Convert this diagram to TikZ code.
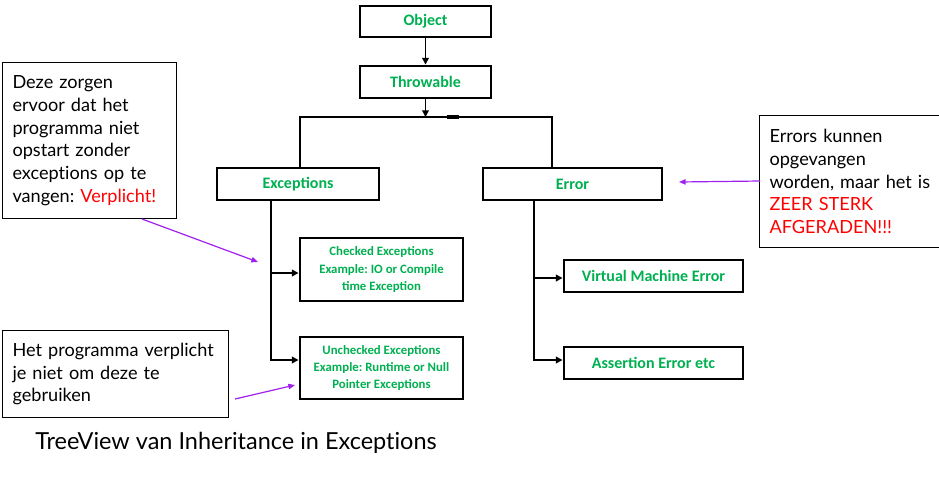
\documentclass[tikz,border=0pt]{standalone}
\usepackage{fontspec}
\setmainfont{Lato}[Ligatures=NoCommon]
\newfontfamily\treefont{Carlito}
\usetikzlibrary{arrows.meta,calc}
\definecolor{tgreen}{RGB}{0,176,80}
\definecolor{apurple}{RGB}{160,32,240}
\definecolor{ared}{RGB}{255,0,0}
\frenchspacing
\begin{document}
\begin{tikzpicture}[x=0.75pt,y=-0.75pt,
  tbox/.style={draw=black, line width=2.2pt, inner sep=0pt, text=tgreen, align=center,
    font=\treefont\bfseries\fontsize{12}{14}\selectfont},
  sbox/.style={tbox, font=\treefont\bfseries\fontsize{9.6}{13}\selectfont},
  conn/.style={draw=black, line width=1.6pt},
  tarrow/.style={-{Triangle[length=5pt,width=5pt]}},
  anno/.style={draw=black, line width=0.75pt, inner sep=0pt, anchor=north west, align=left,
    font=\fontsize{13.6}{17}\selectfont},
  parrow/.style={draw=apurple, line width=0.9pt, -{Triangle[length=5pt,width=4pt]}}
]
\useasboundingbox (0,0) rectangle (939,483);

% tree boxes
\node[tbox, minimum width=98.25pt, minimum height=23.25pt] (obj) at (425.5,21.5) {Object};
\node[tbox, minimum width=98.25pt, minimum height=24pt] (thr) at (425.5,82) {Throwable};
\node[tbox, minimum width=121.5pt, minimum height=24pt] (exc) at (298,184) {Exceptions};
\node[tbox, minimum width=134.25pt, minimum height=24pt] (err) at (572.5,184) {Error};
\node[sbox, minimum width=122.25pt, minimum height=47.25pt] (chk) at (381.5,269.5)
  {Checked Exceptions\\Example: IO or Compile\\time Exception};
\node[sbox, minimum width=122.25pt, minimum height=46.5pt] (unc) at (381.5,368)
  {Unchecked Exceptions\\Example: Runtime or Null\\Pointer Exceptions};
\node[tbox, minimum width=134.25pt, minimum height=24pt] (vme) at (653.5,276) {Virtual Machine Error};
\node[tbox, minimum width=134.25pt, minimum height=24pt] (ass) at (653.5,363) {Assertion Error etc};

% tree connectors
\draw[draw=black, line width=1pt, tarrow] (obj.south) -- (thr.north);
\coordinate (barL) at (300,117);
\coordinate (barR) at (552,117);
\coordinate (barM) at (425.5,117);
\draw[draw=black, line width=1pt, tarrow] (thr.south) -- (barM);
\draw[conn] (barL |- exc.north) -- (barL) -- (barR) -- (barR |- err.north);
\draw[line width=2.4pt] (447,117) -- (459,117);

\coordinate (et1) at (271,273);
\coordinate (et2) at (271,360);
\draw[conn, tarrow] (et1 |- exc.south) -- (et2) -- (et2 -| unc.west);
\draw[conn, tarrow] (et1) -- (et1 -| chk.west);

\coordinate (rt1) at (534,278);
\coordinate (rt2) at (534,360);
\draw[conn, tarrow] (rt1 |- err.south) -- (rt2) -- (rt2 -| ass.west);
\draw[conn, tarrow] (rt1) -- (rt1 -| vme.west);

% annotations
\node[anno, minimum width=130.5pt, minimum height=117pt, text width=115.5pt] (a1) at (2,62)
  {Deze zorgen\\ervoor dat het\\programma niet\\opstart zonder\\exceptions op te\\vangen: \textcolor{ared}{Verplicht!}};
\node[anno, minimum width=141pt, minimum height=99pt, text width=126pt] (a2) at (759,115)
  {Errors kunnen\\opgevangen\\worden, maar het is\\\textcolor{ared}{ZEER STERK}\\\textcolor{ared}{AFGERADEN!!!}};
\node[anno, minimum width=169.5pt, minimum height=65.25pt, text width=154.5pt] (a3) at (2,330)
  {Het programma verplicht\\je niet om deze te\\gebruiken};

\coordinate (p1s) at (142,219);
\coordinate (p1e) at (258,262);
\draw[parrow] (p1s) -- (p1e);
\coordinate (p2s) at (760,181);
\coordinate (p2e) at (679,182);
\draw[parrow] (p2s) -- (p2e);
\coordinate (p3s) at (235,399);
\coordinate (p3e) at (295,385);
\draw[parrow] (p3s) -- (p3e);

\node[font=\fontsize{17.6}{21}\selectfont, inner sep=0pt] (title) at (236,443)
  {TreeView van Inheritance in Exceptions};
\end{tikzpicture}
\end{document}
